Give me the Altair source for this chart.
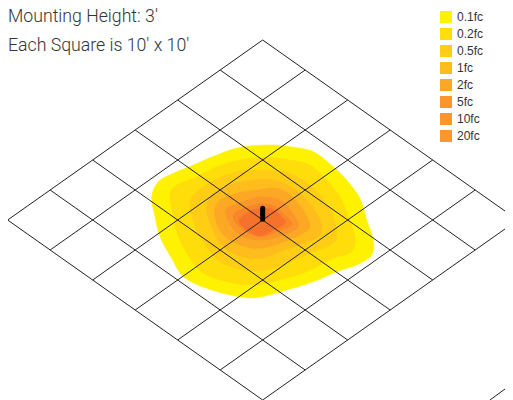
import altair as alt
import pandas as pd

# Scene coordinates: 1 unit = 1/3 px; fixture at (368, 270)
X_DOMAIN = [-396, 1095]
Y_DOMAIN = [810, -366]
CX, CY, DX, DY = 368, 270, 127.5, 90
grid_index = [-3, -2, -1, 0, 1, 2, 3]
stray_x = [1050, 1095]
stray_y = [810, 777]
fixture_x = [368, 368]
fixture_y = [235, 268]

legend_labels = ["0.1fc", "0.2fc", "0.5fc", "1fc", "2fc", "5fc", "10fc", "20fc"]
legend_colors = ["#FFF200", "#FFDE0B", "#FFCE14", "#FEBC1D", "#FCA824", "#FA962B", "#FA962B", "#FA962B"]

captions = ["Mounting Height: 3'", "Each Square is 10' x 10'"]
caption_x = [-396, -396]
caption_y = [-324, -237]

contour_colors = ["#FFF200", "#FFDD0B", "#FFCD14", "#FEBC1D", "#FCA824", "#FB962A", "#F98629", "#F6722C"]
contours = [
    [(35,200),(55,155),(100,130),(160,105),(230,75),(300,52),(380,45),(450,50),(520,65),(580,110),(620,150),(660,205),(680,270),(700,330),(695,375),(650,405),(590,425),(520,455),(440,480),(350,503),(280,497),(200,475),(130,440),(95,385),(60,320),(45,260)],
    [(90,195),(110,165),(170,140),(230,110),(300,90),(380,82),(450,90),(510,105),(560,150),(600,200),(625,260),(645,320),(635,365),(580,385),(500,425),(420,450),(340,465),(260,455),(190,430),(150,385),(115,320),(100,260)],
    [(150,230),(165,190),(225,150),(290,125),(360,120),(430,125),(490,150),(540,195),(575,250),(590,300),(580,340),(520,365),(450,395),(380,420),(310,420),(240,395),(200,350),(170,300)],
    [(200,240),(215,195),(270,165),(340,150),(400,150),(460,175),(505,215),(540,270),(540,315),(490,340),(420,365),(360,385),(290,375),(240,340),(215,290)],
    [(225,260),(235,215),(290,190),(350,180),(410,175),(450,195),(490,240),(510,290),(480,315),(420,340),(360,355),(300,345),(250,315)],
    [(258,240),(310,215),(365,200),(420,210),(455,245),(475,290),(430,315),(370,330),(310,320),(275,290)],
    [(280,255),(340,225),(395,225),(440,260),(455,285),(410,305),(360,320),(310,300)],
    [(300,265),(340,240),(390,235),(425,260),(435,280),(400,300),(360,318),(320,300),(300,280)],
]

X = alt.X("x:Q", scale=alt.Scale(domain=X_DOMAIN, nice=False, zero=False), axis=None)
Y = alt.Y("y:Q", scale=alt.Scale(domain=Y_DOMAIN, nice=False, zero=False), axis=None)

layers = []

legend_df = pd.DataFrame({"level": legend_labels, "x": [0] * 8, "y": [0] * 8})
layers.append(
    alt.Chart(legend_df).mark_square(opacity=0, size=144).encode(
        x=X, y=Y,
        color=alt.Color(
            "level:N",
            scale=alt.Scale(domain=legend_labels, range=legend_colors),
            legend=alt.Legend(
                orient="none", legendX=432, legendY=3, title=None,
                symbolType="square", symbolSize=144, symbolOpacity=1, symbolStrokeWidth=0,
                labelFont="Liberation Sans", labelFontSize=12, labelColor="#333333",
                labelOffset=5, rowPadding=5, padding=0, labelLimit=80,
            ),
        ),
    )
)

for pts, col in zip(contours, contour_colors):
    df = pd.DataFrame({"x": [p[0] for p in pts], "y": [p[1] for p in pts], "i": range(len(pts))})
    layers.append(
        alt.Chart(df).mark_line(
            fill=col, stroke=col, strokeWidth=0.5, interpolate="cardinal-closed", tension=0
        ).encode(x=X, y=Y, order="i:O")
    )

rows = []
seg = 0
for k in grid_index:
    for a, b in ((k, -3), (k, 3)):
        rows.append({"x": CX + DX * (a + b), "y": CY + DY * (b - a), "seg": seg})
    seg += 1
    for a, b in ((-3, k), (3, k)):
        rows.append({"x": CX + DX * (a + b), "y": CY + DY * (b - a), "seg": seg})
    seg += 1
for sx, sy in zip(stray_x, stray_y):
    rows.append({"x": sx, "y": sy, "seg": seg})
grid_df = pd.DataFrame(rows)
layers.append(
    alt.Chart(grid_df).mark_line(stroke="#222222", strokeWidth=1, clip=True).encode(
        x=X, y=Y, detail="seg:N"
    )
)

fix_df = pd.DataFrame({"x": fixture_x, "y": fixture_y})
layers.append(
    alt.Chart(fix_df).mark_line(stroke="#000000", strokeWidth=5, strokeCap="round").encode(x=X, y=Y)
)

cap_df = pd.DataFrame({"x": caption_x, "y": caption_y, "t": captions})
layers.append(
    alt.Chart(cap_df).mark_text(
        align="left", baseline="alphabetic", font="Roboto", fontSize=17.7, fontWeight=300, color="#333333"
    ).encode(x=X, y=Y, text="t:N")
)

chart = alt.layer(*layers).properties(
    width=497, height=392, padding=0, autosize=alt.AutoSizeParams(type="none")
).configure_view(stroke=None)

chart.save("out.html", embed_options={"renderer": "svg", "actions": False})
